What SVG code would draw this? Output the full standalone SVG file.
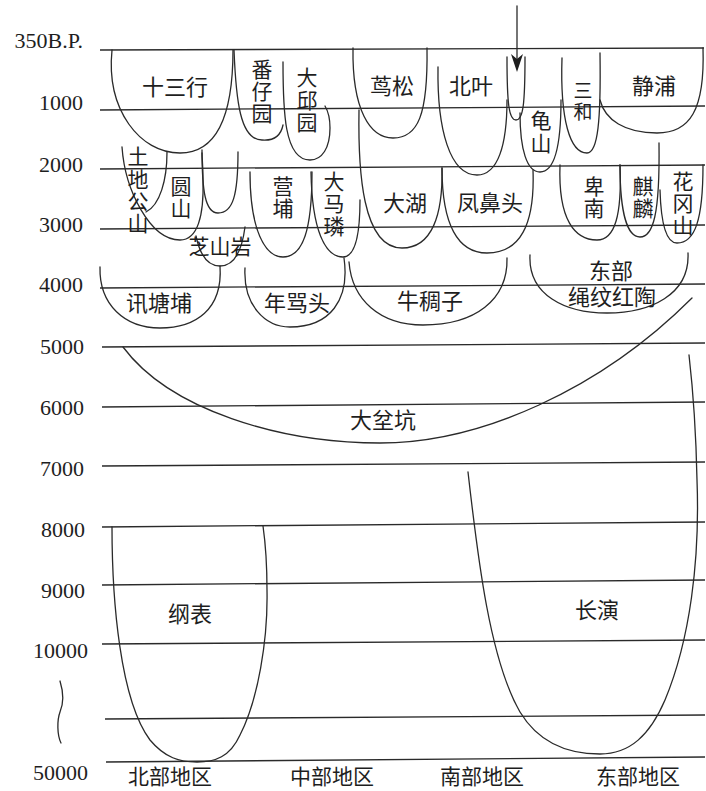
<svg xmlns="http://www.w3.org/2000/svg" width="706" height="791" viewBox="0 0 706 791">
<style>
.ln{fill:none;stroke:#2a2a2a;stroke-width:1.3;stroke-linecap:round}
.grid line{stroke:#2a2a2a;stroke-width:1.3}
.num{font-family:"Liberation Serif","Times New Roman",serif;font-size:22px;fill:#1e1e1e;text-anchor:end}
.cj{font-family:"Liberation Serif","Noto Sans CJK SC",sans-serif;font-size:21px;fill:#1e1e1e;text-anchor:middle}
.cjs{font-family:"Liberation Serif","Noto Sans CJK SC",sans-serif;font-size:19px;fill:#1e1e1e;text-anchor:middle}
.cjl{font-family:"Liberation Serif","Noto Sans CJK SC",sans-serif;font-size:22px;fill:#1e1e1e;text-anchor:middle}
</style>
<rect width="706" height="791" fill="#ffffff"/>
<g id="axis">
<text class="num" x="83" y="48">350B.P.</text>
<text class="num" x="83" y="110">1000</text>
<text class="num" x="83" y="172">2000</text>
<text class="num" x="83" y="232">3000</text>
<text class="num" x="83" y="292">4000</text>
<text class="num" x="84" y="354">5000</text>
<text class="num" x="84" y="415">6000</text>
<text class="num" x="84" y="476">7000</text>
<text class="num" x="85" y="537">8000</text>
<text class="num" x="85" y="598">9000</text>
<text class="num" x="88" y="658">10000</text>
<text class="num" x="88" y="780">50000</text>
<path class="ln" d="M60,681 C64,694 63,705 60,712 C57,720 57,735 61,743"/>
</g>
<g id="grid" class="grid">
<line x1="100" y1="50" x2="704" y2="48"/>
<line x1="100" y1="110" x2="705" y2="106"/>
<line x1="100" y1="169" x2="705" y2="165"/>
<line x1="100" y1="229" x2="705" y2="225"/>
<line x1="100" y1="288" x2="705" y2="284"/>
<line x1="102" y1="347" x2="705" y2="343"/>
<line x1="102" y1="407" x2="705" y2="402"/>
<line x1="102" y1="466" x2="705" y2="462"/>
<line x1="102" y1="527" x2="705" y2="522"/>
<line x1="102" y1="585" x2="705" y2="580"/>
<line x1="102" y1="644" x2="705" y2="640"/>
<line x1="105" y1="719" x2="705" y2="715"/>
<line x1="106" y1="762" x2="705" y2="757"/>
</g>
<g id="shisanhang"><path class="ln" d="M112,50 C106,110 140,153 180,153 C215,153 233,120 233,50"/><text class="cjl" x="175" y="95">十三行</text></g>
<g id="fanziyuan"><path class="ln" d="M234,50 C236,100 240,140 262,140 C275,141 281,135 283,125"/><text class="cj" x="262" y="77">番</text><text class="cj" x="262" y="99">仔</text><text class="cj" x="262" y="121">园</text></g>
<g id="daqiuyuan"><path class="ln" d="M283,62 C283,110 284,160 310,160 C322,160 330,148 330,128 C330,118 328,111 325,106"/><text class="cj" x="307" y="85">大</text><text class="cj" x="307" y="108">邱</text><text class="cj" x="307" y="130">园</text></g>
<g id="niaosong"><path class="ln" d="M353,48 C352,110 370,138 393,138 C418,138 428,115 427,48"/><text class="cjl" x="392" y="94">茑松</text></g>
<g id="beiye"><path class="ln" d="M438,67 C437,130 450,175 477,175 C498,175 507,145 507,100"/><text class="cjl" x="471" y="94">北叶</text></g>
<g id="arrowsite"><path class="ln" d="M507,57 C507,105 509,120 516,120 C523,120 525,105 525,57"/></g>
<g id="guishan"><path class="ln" d="M520,113 C520,150 527,172 540,172 C553,172 561,150 561,100"/><text class="cj" x="541" y="128">龟</text><text class="cj" x="541" y="151">山</text></g>
<g id="sanhe"><path class="ln" d="M562,58 C560,120 570,153 587,153 C598,153 601,120 600,53"/><text class="cjs" x="583" y="98">三</text><text class="cjs" x="583" y="119">和</text></g>
<g id="jingpu"><path class="ln" d="M600,100 C605,120 625,133 657,133 C690,133 705,110 703,48"/><text class="cjl" x="654" y="94">静浦</text></g>
<g id="yuanshan"><path class="ln" d="M122,147 C125,190 150,240 180,240 C198,240 204,215 203,180 C203,165 202,158 202,153"/><text class="cj" x="181" y="194">圆</text><text class="cj" x="181" y="216">山</text></g>
<g id="tudigongshan"><path class="ln" d="M167,152 C167,180 160,205 146,212"/><text class="cj" x="138" y="164">土</text><text class="cj" x="138" y="187">地</text><text class="cj" x="138" y="209">公</text><text class="cj" x="138" y="231">山</text></g>
<g id="emptyu"><path class="ln" d="M202,150 C202,190 205,213 218,213 C233,213 238,195 238,152"/></g>
<g id="zhishanyan"><path class="ln" d="M196,236 C200,255 208,266 220,266 C235,266 242,250 245,227"/><text class="cj" x="220" y="254">芝山岩</text></g>
<g id="yingpu"><path class="ln" d="M250,172 C250,230 265,257 283,257 C303,257 312,230 312,172"/><text class="cj" x="283" y="194">营</text><text class="cj" x="283" y="216">埔</text></g>
<g id="damalin"><path class="ln" d="M311,172 C312,230 325,257 343,257 C356,257 360,230 360,200"/><text class="cj" x="334" y="189">大</text><text class="cj" x="334" y="211">马</text><text class="cj" x="334" y="234">璘</text></g>
<g id="dahu"><path class="ln" d="M359,110 C358,170 362,248 402,248 C432,248 443,215 442,168"/><text class="cjl" x="405" y="211">大湖</text></g>
<g id="fengbitou"><path class="ln" d="M442,168 C442,225 458,253 487,253 C520,253 535,225 533,170"/><text class="cjl" x="490" y="211">凤鼻头</text></g>
<g id="beinan"><path class="ln" d="M560,165 C558,220 575,240 597,240 C615,240 622,215 620,165"/><text class="cj" x="594" y="194">卑</text><text class="cj" x="594" y="216">南</text></g>
<g id="qilin"><path class="ln" d="M620,165 C620,215 628,237 640,237 C653,237 660,215 659,143"/><text class="cj" x="643" y="194">麒</text><text class="cj" x="643" y="216">麟</text></g>
<g id="huagangshan"><path class="ln" d="M660,190 C661,225 667,243 677,243 C695,243 703,220 703,165"/><text class="cj" x="683" y="189">花</text><text class="cj" x="683" y="211">冈</text><text class="cj" x="683" y="233">山</text></g>
<g id="xuntangpu"><path class="ln" d="M100,267 C99,305 125,328 160,328 C195,328 223,310 220,266"/><text class="cjl" x="159" y="311">讯塘埔</text></g>
<g id="nianmatou"><path class="ln" d="M245,268 C243,305 265,327 290,327 C330,327 350,300 344,258"/><text class="cjl" x="297" y="311">年骂头</text></g>
<g id="niuchouzi"><path class="ln" d="M349,262 C352,300 380,325 423,325 C475,325 508,300 507,258"/><text class="cjl" x="430" y="309">牛稠子</text></g>
<g id="dongbu"><path class="ln" d="M530,255 C528,295 565,313 607,313 C650,313 690,295 688,253"/><text class="cjl" x="611" y="279">东部</text><text class="cjl" x="612" y="305">绳纹红陶</text></g>
<g id="dabenkeng"><path class="ln" d="M123,347 C170,410 280,443 380,443 C480,443 600,390 692,298"/><text class="cjl" x="383" y="428">大坌坑</text></g>
<g id="gangbiao"><path class="ln" d="M112,527 C112,600 120,700 150,740 C165,758 180,762 197,762 C215,762 230,757 240,735 C258,700 268,640 267,590 C267,560 265,540 263,526"/><text class="cjl" x="190" y="622">纲表</text></g>
<g id="changyan"><path class="ln" d="M468,472 C478,560 490,660 520,712 C540,745 570,754 600,754 C630,754 650,735 665,700 C690,640 700,560 697,480 C696,430 693,390 689,355"/><text class="cjl" x="597" y="618">长演</text></g>
<g id="regions">
<text class="cj" x="170" y="784">北部地区</text>
<text class="cj" x="332" y="784">中部地区</text>
<text class="cj" x="482" y="784">南部地区</text>
<text class="cj" x="638" y="784">东部地区</text>
</g>
<g id="connectors">
<line class="ln" x1="517" y1="6" x2="517" y2="60"/>
<path d="M511,54 L517,72 L523,54 L517,59 Z" fill="#1e1e1e"/>
</g>
</svg>
